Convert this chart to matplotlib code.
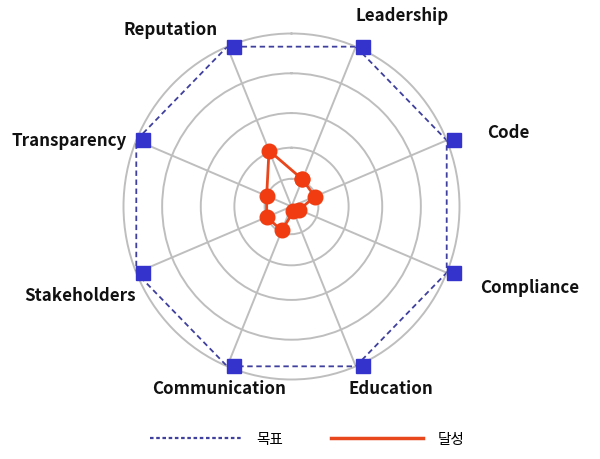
import numpy as np
import matplotlib
matplotlib.use("Agg")
import matplotlib.pyplot as plt
import matplotlib.transforms as mtransforms
from matplotlib.lines import Line2D

plt.rcParams['font.family'] = ['Noto Sans CJK KR', 'DejaVu Sans']

# data
categories = ["Leadership", "Code", "Compliance", "Education",
              "Communication", "Stakeholders", "Transparency", "Reputation"]
target = [100, 100, 100, 100, 100, 100, 100, 100]
achieved = [17, 15, 5, 3, 15, 16, 16, 35]
series_names = ["목표", "달성"]

# label centres in pixels (x from left, y from top) as in the reference
label_px = [(402, 16), (508, 133), (530, 288), (391, 389),
            (219, 389), (80, 296), (69, 141), (171, 30)]

W, H = 600, 460
fig = plt.figure(figsize=(W / 100, H / 100), dpi=100)
cx, cy, rx, ry = 291.5, 207.5, 168, 173
ax = fig.add_axes([(cx - rx) / W, (H - cy - ry) / H, 2 * rx / W, 2 * ry / H],
                  projection='polar')
ax.set_aspect('auto')
ax.set_theta_zero_location('N')
ax.set_theta_direction(-1)

n = len(categories)
angles = np.deg2rad(22.5 + 45 * np.arange(n))
ang_c = np.append(angles, angles[0])

grid_col = '#BEBEBE'
ax.set_ylim(0, 100)
ax.set_rgrids([16, 34, 54, 77], labels=[''] * 4)
ax.set_xticks(angles)
ax.set_xticklabels([''] * n)
ax.grid(True, color=grid_col, linewidth=1.4)
ax.spines['polar'].set_color(grid_col)
ax.spines['polar'].set_linewidth(1.4)

navy = '#3F3F9E'
blue = '#3434CC'
red = '#E8461C'

tgt = np.append(target, target[0])
ax.plot(ang_c, tgt, color=navy, linewidth=1.3, linestyle=(0, (3, 2)), zorder=3)
# markers appear shifted slightly right of the line in the reference
shift = mtransforms.ScaledTranslation(7 / 100, 0, fig.dpi_scale_trans)
ax.plot(angles, target, linestyle='none', marker='s', markersize=10,
        color=blue, zorder=4, clip_on=False, transform=ax.transData + shift)

ach = np.append(achieved, achieved[0])
ax.plot(ang_c, ach, color=red, linewidth=2.0, marker='o', markersize=10.5,
        markerfacecolor='#F03C10', markeredgecolor='#F03C10', zorder=5)

for name, (px, py) in zip(categories, label_px):
    fig.text(px / W, 1 - py / H, name, ha='center', va='center',
             fontsize=12.2, fontweight='bold', color='#111111')

handles = [Line2D([], [], color=navy, linewidth=1.6, linestyle=(0, (1.6, 1.2))),
           Line2D([], [], color=red, linewidth=2.5)]
fig.legend(handles, series_names, loc='center', bbox_to_anchor=(0.512, 1 - 440 / H),
           ncol=2, frameon=False, fontsize=10.5, handlelength=6.3,
           handletextpad=1.0, columnspacing=3.3)

fig.savefig('out.png', dpi=100)
